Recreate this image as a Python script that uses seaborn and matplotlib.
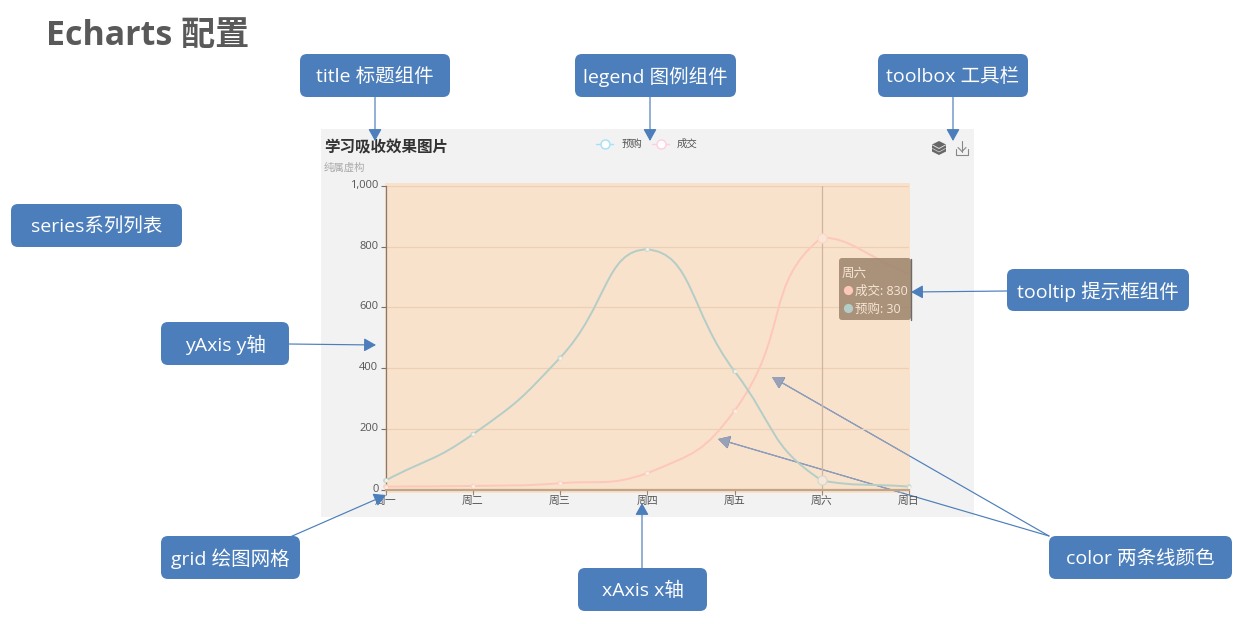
import pandas as pd
import matplotlib
matplotlib.use('Agg')
import matplotlib.pyplot as plt
import seaborn as sb
from matplotlib.patches import FancyBboxPatch, FancyArrowPatch, PathPatch, Rectangle, Polygon
from matplotlib.path import Path
from matplotlib.transforms import ScaledTranslation

W, H = 1245, 624

# Chart data
days = ['周一', '周二', '周三', '周四', '周五', '周六', '周日']
order_vals = [30, 182, 434, 791, 390, 30, 10]
deal_vals = [10, 12, 21, 54, 260, 830, 710]
y_ticks = [0, 200, 400, 600, 800, 1000]
y_labels = ['0', '200', '400', '600', '800', '1,000']

# Callout labels: text, left, top, right, bottom
boxes = [
    ('title 标题组件', 300, 54, 450, 97),
    ('legend 图例组件', 575, 54, 736, 97),
    ('toolbox 工具栏', 878, 54, 1028, 97),
    ('series系列列表', 11, 204, 182, 247),
    ('tooltip 提示框组件', 1007, 269, 1189, 311),
    ('yAxis y轴', 161, 322, 289, 365),
    ('grid 绘图网格', 161, 536, 300, 579),
    ('xAxis x轴', 578, 568, 707, 611),
    ('color 两条线颜色', 1049, 536, 1232, 579),
]
arrows = [
    (375, 97, 375, 141),
    (650, 97, 650, 141),
    (953, 97, 953, 141),
    (1007, 291, 911, 292),
    (289, 344, 376, 345),
    (290, 537, 386, 495),
    (642, 568, 642, 503),
]
color_arrows = [(1049, 536, 772, 377), (1049, 536, 718, 439)]

BLUE = '#4c7ebb'
PEACH = '#f8e2cc'
PANEL = '#f2f2f2'
ORDER_C = '#b4cdc6'
DEAL_C = '#fdc7ba'
CJK = ['Open Sans', 'Noto Sans CJK SC', 'DejaVu Sans']

sb.set_theme(style='white')
plt.rcParams['font.family'] = CJK

fig = plt.figure(figsize=(W / 100, H / 100), dpi=100, facecolor='white')


def pixel_axes(z):
    a = fig.add_axes([0, 0, 1, 1], zorder=z)
    a.set_xlim(0, W)
    a.set_ylim(H, 0)
    a.axis('off')
    a.patch.set_alpha(0)
    return a


def draw_arrow(a, c, color, lw=0.85, clip=None):
    p = FancyArrowPatch((c[0], c[1]), (c[2], c[3]), arrowstyle='-|>,head_length=0.52,head_width=0.29',
                        mutation_scale=14, shrinkA=0, shrinkB=0, color=color, lw=lw, zorder=4)
    a.add_patch(p)
    if clip is not None:
        p.set_clip_path(clip)


# Background layer
bg = pixel_axes(0)
bg.add_patch(Rectangle((321, 129), 653, 388, fc=PANEL, ec='none', zorder=1))
for c in color_arrows:
    draw_arrow(bg, c, BLUE)
peach = Rectangle((385, 183), 525, 310, fc=PEACH, ec='none', zorder=2)
bg.add_patch(peach)
for c in color_arrows:
    draw_arrow(bg, c, '#9aa1b6', lw=0.7, clip=peach)

# Chart axes lined up with the peach grid
left, right, top, bottom = 385.5, 909, 186, 489.6
ax = fig.add_axes([left / W, 1 - bottom / H, (right - left) / W, (bottom - top) / H], zorder=1)
ax.patch.set_alpha(0)
ax.set_xlim(0, len(days) - 1)
ax.set_ylim(0, 1000)
ax.set_yticks(y_ticks, y_labels)
ax.set_xticks(range(len(days)), days)
ax.tick_params(axis='y', length=3.6, width=0.8, color='#7d6f64', labelsize=8, labelcolor='#555555', pad=1.5, left=True)
ax.tick_params(axis='x', length=3.6, width=0.8, color='#9c8672', labelsize=7.8, labelcolor='#555555', pad=0.8, bottom=True)
ax.grid(axis='y', color='#edcfb3', lw=0.8)
ax.set_axisbelow(True)
for s in ['top', 'right']:
    ax.spines[s].set_visible(False)
ax.spines['left'].set_color('#8a7768')
ax.spines['left'].set_linewidth(0.9)
ax.spines['bottom'].set_color('#c2a488')
ax.spines['bottom'].set_linewidth(1.6)

# y labels sit a little above their ticks in the original
lift = ScaledTranslation(0, 1.5 / 72, fig.dpi_scale_trans)
for t in ax.get_yticklabels():
    t.set_transform(t.get_transform() + lift)


def smooth_path(vals, k=0.5):
    # same smoothing the chart library uses, worked out in screen units,
    # control points are held inside the range of the series
    n = len(vals)
    sx = (right - left) / (n - 1)
    sy = (bottom - top) / 1000
    lo, hi = min(vals), max(vals)
    cps = []
    for i, v in enumerate(vals):
        a, b = max(i - 1, 0), min(i + 1, n - 1)
        dx = (b - a) * k
        dy = (vals[b] - vals[a]) * k
        d0 = (((i - a) * sx) ** 2 + ((v - vals[a]) * sy) ** 2) ** 0.5
        d1 = (((b - i) * sx) ** 2 + ((vals[b] - v) * sy) ** 2) ** 0.5
        t0, t1 = d0 / (d0 + d1), d1 / (d0 + d1)
        before = (i - dx * t0, min(max(v - dy * t0, lo), hi))
        after = (i + dx * t1, min(max(v + dy * t1, lo), hi))
        cps.append((before, after))
    verts = [(0, vals[0])]
    codes = [Path.MOVETO]
    for i in range(1, n):
        verts += [cps[i - 1][1], cps[i][0], (i, vals[i])]
        codes += [Path.CURVE4] * 3
    return Path(verts, codes)


ax.axvline(5, color='#cfb59d', lw=0.9, zorder=1.5)
ax.add_patch(PathPatch(smooth_path(deal_vals), fc='none', ec=DEAL_C, lw=1.4, zorder=2))
ax.add_patch(PathPatch(smooth_path(order_vals), fc='none', ec=ORDER_C, lw=1.4, zorder=2.1))

df = pd.DataFrame({
    'pos': list(range(len(days))) * 2,
    'value': deal_vals + order_vals,
    'series': ['成交'] * len(days) + ['预购'] * len(days),
})
sb.scatterplot(data=df[df['pos'] != 5], x='pos', y='value', hue='series',
               palette={'成交': '#fdd3c8', '预购': '#c6dad3'}, s=13, linewidth=0,
               legend=False, ax=ax, clip_on=False, zorder=3)
sb.scatterplot(data=df[df['pos'] != 5], x='pos', y='value', s=5, color='#fbeee2', linewidth=0,
               legend=False, ax=ax, clip_on=False, zorder=3.1)
for s_name, col in [('成交', '#fdd6cb'), ('预购', '#c8dbd2')]:
    d = df[(df['pos'] == 5) & (df['series'] == s_name)]
    ax.scatter(d['pos'], d['value'], s=44, fc='#fae6d6', ec=col, lw=0.8, zorder=3.2, clip_on=False)
ax.set_xlabel('')
ax.set_ylabel('')

# Foreground layer: texts, legend, tooltip, callouts
fg = pixel_axes(2)
fg.text(46, 36, 'Echarts 配置', fontsize=24.5, fontweight='bold', color='#595959', va='center', ha='left')
fg.text(324, 148, '学习吸收效果图片', fontsize=11.2, fontweight='bold', color='#333333', va='center', ha='left')
fg.text(324, 168.5, '纯属虚构', fontsize=7.5, color='#aaaaaa', va='center', ha='left')

for x0, label, tx, col in [(604, '预购', 622, '#a5e0f5'), (660, '成交', 677, '#ffcfdc')]:
    fg.plot([x0 - 8, x0 + 9], [144, 144], color=col, lw=1.0, zorder=3)
    fg.scatter([x0 + 0.5], [144], s=42, fc='white', ec=col, lw=1.0, zorder=4)
    fg.text(tx, 144.5, label, fontsize=7.5, color='#555555', va='center', ha='left')

# toolbox icons
fg.add_patch(Polygon([(939, 141), (946, 144.5), (946, 151.5), (939, 155), (932, 151.5), (932, 144.5)],
                     fc='#666666', ec='none', zorder=3))
fg.plot([932.5, 939, 945.5], [145, 148.5, 145], color='#dddddd', lw=0.7, zorder=4)
fg.plot([932.5, 939, 945.5], [148.5, 152, 148.5], color='#dddddd', lw=0.5, zorder=4)
fg.plot([956, 956, 968, 968], [149, 154.5, 154.5, 149], color='#888888', lw=0.8)
fg.plot([962, 962], [141, 151.5], color='#888888', lw=0.8)
fg.plot([958, 962, 966], [147.5, 151.5, 147.5], color='#888888', lw=0.8)

# tooltip
fg.add_patch(FancyBboxPatch((839, 258), 72, 62, boxstyle='round,pad=0,rounding_size=3',
                            fc='#9e866f', ec='none', alpha=0.88, zorder=5))
fg.plot([911, 911], [259, 320], color='#6d6a68', lw=1.0, zorder=5)
fg.text(842, 273.5, '周六', fontsize=9, color='#f7e6d6', va='center', ha='left', zorder=6)
fg.scatter([847.5], [290], s=44, color=DEAL_C, lw=0, zorder=6)
fg.text(855, 291.5, '成交: 830', fontsize=9, color='#f7e6d6', va='center', ha='left', zorder=6)
fg.scatter([847.5], [308], s=44, color=ORDER_C, lw=0, zorder=6)
fg.text(855, 309.5, '预购: 30', fontsize=9, color='#f7e6d6', va='center', ha='left', zorder=6)

for c in arrows:
    draw_arrow(fg, c, BLUE)
    fg.patches[-1].set_zorder(7)

for label, x0, y0, x1, y1 in boxes:
    fg.add_patch(FancyBboxPatch((x0, y0), x1 - x0, y1 - y0, boxstyle='round,pad=0,rounding_size=7',
                                fc=BLUE, ec='none', zorder=8))
    fg.text((x0 + x1) / 2, (y0 + y1) / 2 + 1.5, label, fontsize=14, color='white', va='center', ha='center', zorder=9)

fig.savefig('out.png', dpi=100)
